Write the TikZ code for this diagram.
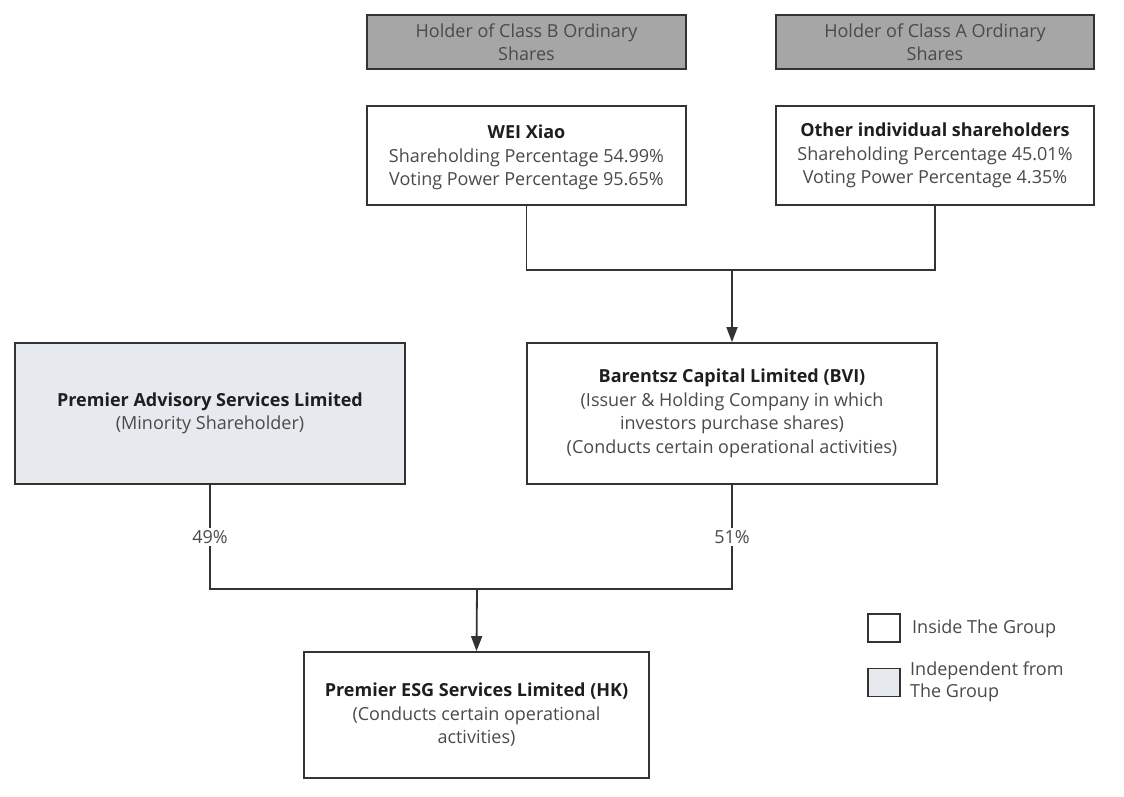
\documentclass[tikz,border=0pt]{standalone}
\usepackage{fontspec}
\setmainfont{Open Sans}
\usetikzlibrary{arrows.meta,positioning}
\definecolor{lc}{HTML}{333333}
\definecolor{tc}{HTML}{4A4A4A}
\definecolor{bc}{HTML}{1E1E1E}
\definecolor{hdr}{HTML}{A6A6A6}
\definecolor{ind}{HTML}{E6E9ED}
\tikzset{
  box/.style={draw=lc,line width=1.8pt,rectangle,inner sep=0pt,align=center,text=tc,font=\fontsize{18}{23.5}\selectfont},
  hdrbox/.style={box,fill=hdr},
  indbox/.style={box,fill=ind},
  conn/.style={draw=lc,line width=1.8pt},
  arr/.style={conn,-{Triangle[length=15pt,width=11pt]}},
  pct/.style={fill=white,text=tc,font=\fontsize{18}{20}\selectfont,inner sep=2pt},
  leg/.style={draw=lc,line width=1.8pt,rectangle,inner sep=0pt,minimum width=32pt,minimum height=28pt},
  legtxt/.style={anchor=west,align=left,text=tc,font=\fontsize{18}{22}\selectfont,inner sep=0pt}
}
\newcommand{\bt}[1]{{\bfseries\color{bc}#1}}
\begin{document}
\begin{tikzpicture}[x=1pt,y=-1pt]
\useasboundingbox (0,0) rectangle (1124,796);
\fill[white] (0,0) rectangle (1124,796);
% headers
\node[hdrbox,minimum width=319pt,minimum height=54pt] (hb) at (526.5,42) {Holder of Class B Ordinary\\Shares};
\node[hdrbox,minimum width=318pt,minimum height=54pt] (ha) at (935,42) {Holder of Class A Ordinary\\Shares};
% shareholders
\node[box,minimum width=319pt,minimum height=99pt,text depth=0pt] (wei) at (526.5,155.5) {\bt{WEI Xiao}\\Shareholding Percentage 54.99\%\\Voting Power Percentage 95.65\%};
\node[box,minimum width=318pt,minimum height=99pt] (oth) at (935,155.5) {\bt{Other individual shareholders}\\Shareholding Percentage 45.01\%\\Voting Power Percentage 4.35\%};
% middle
\node[box,minimum width=410pt,minimum height=141pt] (bar) at (732,413.5) {\bt{Barentsz Capital Limited (BVI)}\\(Issuer \& Holding Company in which\\investors purchase shares)\\(Conducts certain operational activities)};
\node[indbox,minimum width=390pt,minimum height=141pt] (pas) at (210,413.5) {\bt{Premier Advisory Services Limited}\\(Minority Shareholder)};
% bottom
\node[box,minimum width=345pt,minimum height=126pt] (esg) at (476.5,715) {\bt{Premier ESG Services Limited (HK)}\\(Conducts certain operational\\activities)};
% connectors top
\coordinate (j1) at (732,270);
\draw[conn] (wei.south) |- (j1);
\draw[conn] (oth.south) |- (j1);
\draw[arr] (j1) -- (bar.north);
% connectors bottom
\coordinate (j2) at (477,589);
\draw[conn] (pas.south) |- node[pct,pos=0.25] {49\%} (j2);
\draw[conn] (bar.south) |- node[pct,pos=0.25] {51\%} (j2);
\draw[arr] (j2) -- (esg.north);
% legend
\node[leg] (l1) at (884,628) {};
\node[legtxt] (l1t) at (912,629) {Inside The Group};
\node[leg,fill=ind] (l2) at (884,682.5) {};
\node[legtxt] (l2t) at (910,682) {Independent from\\The Group};
\end{tikzpicture}
\end{document}
